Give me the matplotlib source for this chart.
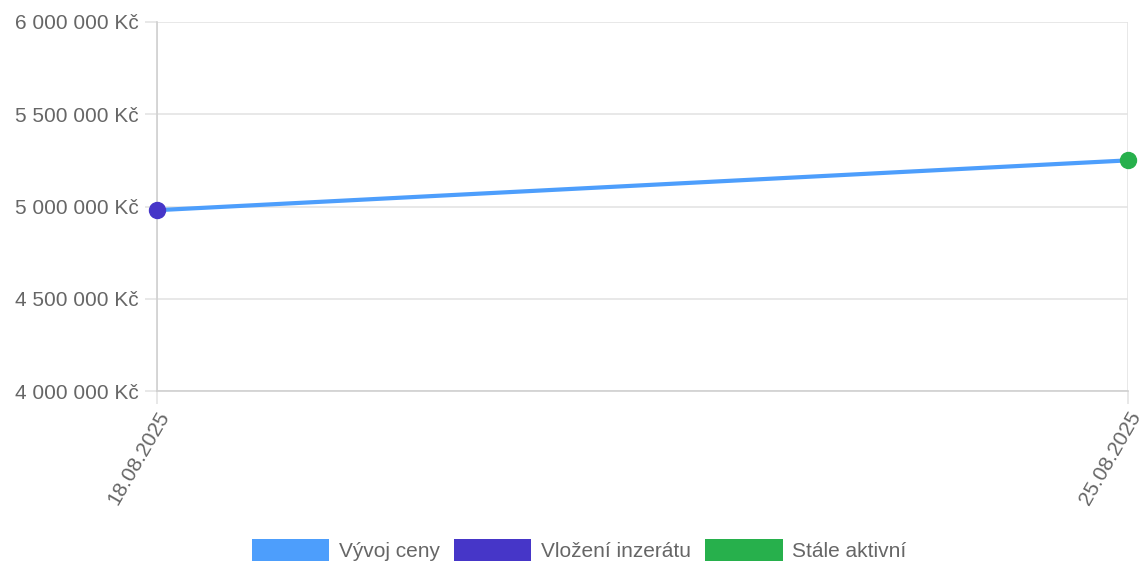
import matplotlib
matplotlib.use('Agg')
import matplotlib.pyplot as plt
from matplotlib.patches import Patch

plt.rcParams['font.family'] = ['Liberation Sans', 'DejaVu Sans']

# Data
dates = ['18.08.2025', '25.08.2025']
prices = [4980000, 5250000]
y_ticks = [4000000, 4500000, 5000000, 5500000, 6000000]

line_color = '#4d9efc'
start_color = '#4636c8'
active_color = '#27b04c'
grid_color = '#e4e4e4'
text_color = '#666666'

fig = plt.figure(figsize=(11.47, 5.67), dpi=100)
ax = fig.add_axes([0.1369, 0.3104, 0.8465, 0.6508])

x = list(range(len(dates)))
ax.plot(x, prices, color=line_color, linewidth=3, zorder=3, solid_capstyle='round', clip_on=False)
ax.plot(x[0], prices[0], 'o', color=start_color, markersize=11.5, zorder=4, clip_on=False)
ax.plot(x[-1], prices[-1], 'o', color=active_color, markersize=11.5, zorder=4, clip_on=False)

ax.set_xlim(x[0], x[-1])
ax.set_ylim(y_ticks[0], y_ticks[-1])
ax.set_yticks(y_ticks)
ax.set_yticklabels([f'{v:,}'.replace(',', ' ') + ' Kč' for v in y_ticks])
ax.set_xticks(x)
ax.set_xticklabels(dates, rotation=60, ha='right', va='top', rotation_mode='anchor')

ax.grid(True, color=grid_color, linewidth=1.2)
ax.set_axisbelow(True)
for side in ['top', 'right']:
    ax.spines[side].set_visible(False)
for side in ['left', 'bottom']:
    ax.spines[side].set_color('#d0d0d0')
    ax.spines[side].set_linewidth(1.2)
ax.tick_params(axis='both', colors=grid_color, length=9, width=1.2,
               labelcolor=text_color, labelsize=15)
ax.tick_params(axis='y', pad=4)
ax.tick_params(axis='x', pad=3)

handles = [Patch(facecolor=line_color, edgecolor='none'),
           Patch(facecolor=start_color, edgecolor='none'),
           Patch(facecolor=active_color, edgecolor='none')]
fig.legend(handles, ['Vývoj ceny', 'Vložení inzerátu', 'Stále aktivní'],
           loc='center', bbox_to_anchor=(0.505, 0.0295), ncol=3, frameon=False,
           fontsize=15, labelcolor=text_color, handlelength=3.7, handleheight=1.2,
           handletextpad=0.45, columnspacing=0.7)

fig.savefig('out.png', dpi=100)
